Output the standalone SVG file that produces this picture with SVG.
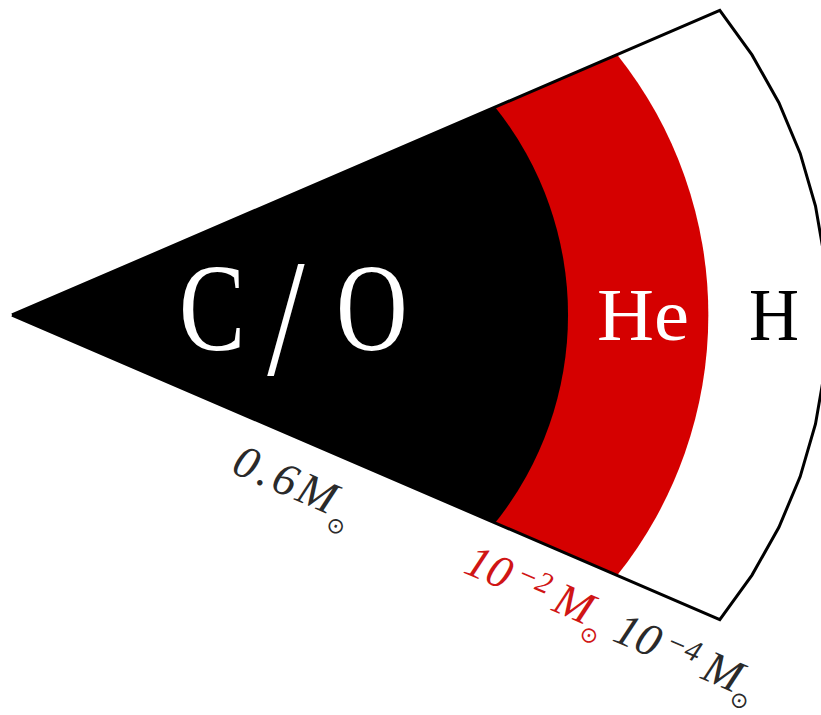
<svg xmlns="http://www.w3.org/2000/svg" width="821" height="715" viewBox="0 0 821 715">
<style>
.big{font-family:"Liberation Serif","DejaVu Serif",serif;}
.lbl{font-family:"Liberation Serif","DejaVu Serif",serif;font-style:italic;font-size:46px;}
.sun{font-family:"DejaVu Sans",sans-serif;font-style:normal;font-size:22px;}
.sup{font-size:30px;}
</style>
<rect width="821" height="715" fill="#fff"/>
<g id="helium-shell"><path d="M12,315 L617,54.4 A417.4,417.4 0 0 1 617,575.6 Z" fill="#d50000"/></g>
<g id="co-core"><path d="M12,315 L495,106.9 A333,333 0 0 1 495,523.1 Z" fill="#000"/></g>
<g id="outline"><path d="M12,315 L719.8,10.4 L752,54.9 L778.9,102.7 L800.2,153.4 L815.5,206.1 L824.9,260.2 L828,315 L824.9,369.8 L815.5,423.9 L800.2,476.6 L778.9,527.3 L752,575.1 L719.8,619.6 L12,315" fill="none" stroke="#000" stroke-width="3" stroke-linejoin="miter"/></g>
<g id="label-co" class="big" fill="#fff">
<text transform="translate(0,350) scale(0.8,1)" font-size="124"><tspan x="223.75" y="0">C</tspan><tspan x="334" y="24" font-size="168">/</tspan><tspan x="420" y="0">O</tspan></text>
</g>
<g id="label-he" class="big"><text x="597" y="340" font-size="74" fill="#fff" textLength="92" lengthAdjust="spacingAndGlyphs">He</text></g>
<g id="label-h" class="big"><text x="749" y="340" font-size="74" fill="#000" textLength="50" lengthAdjust="spacingAndGlyphs">H</text></g>
<g id="mass-core" transform="translate(230,472) rotate(23.3)">
<text class="lbl" fill="#2a2a2a" letter-spacing="4">0.6M<tspan class="sun" dx="-2.5" dy="15">⊙</tspan></text>
</g>
<g id="mass-he" transform="translate(462,572) rotate(23.3)">
<text class="lbl" fill="#d01515">10<tspan class="sup" dx="6" dy="-13">−2</tspan><tspan dx="9" dy="13">M</tspan><tspan class="sun" dx="-2" dy="15">⊙</tspan></text>
</g>
<g id="mass-h" transform="translate(611,640) rotate(23.3)">
<text class="lbl" fill="#2a2a2a">10<tspan class="sup" dx="6" dy="-13">−4</tspan><tspan dx="9" dy="13">M</tspan><tspan class="sun" dx="-2" dy="12" font-size="21">⊙</tspan></text>
</g>
</svg>
